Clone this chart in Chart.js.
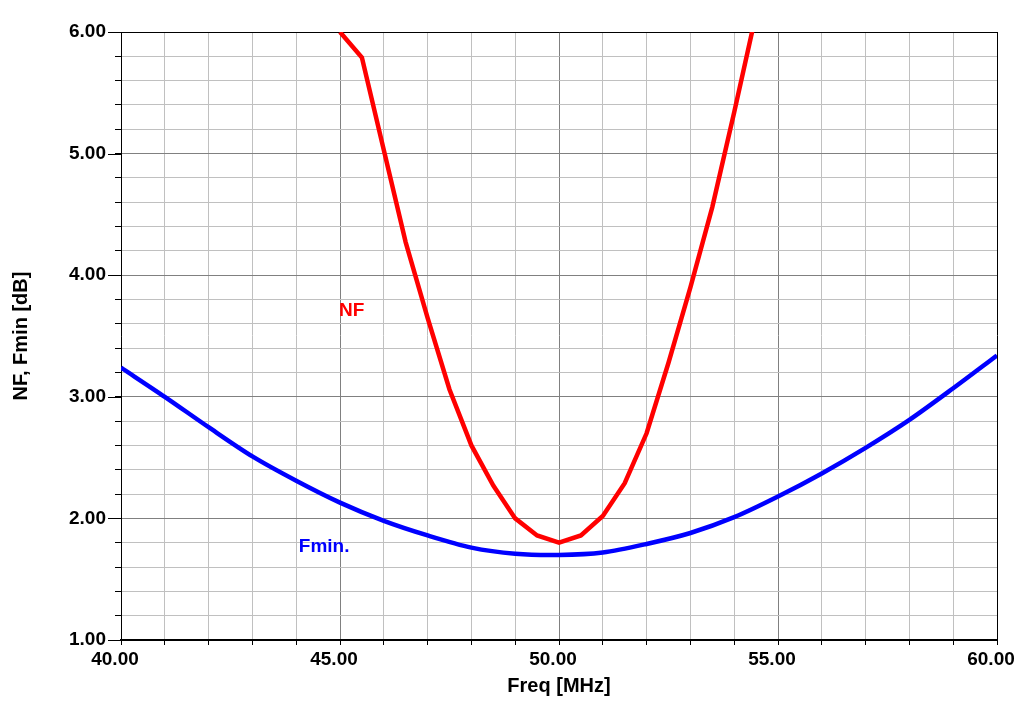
<!DOCTYPE html>
<html>
<head>
<meta charset="utf-8">
<title>NF, Fmin vs Freq</title>
<script src="https://cdn.jsdelivr.net/npm/chart.js@4.4.1/dist/chart.umd.min.js"></script>
<style>
  html, body { margin: 0; padding: 0; background: #fff; }
  #wrap { width: 1035px; height: 708px; position: relative; }
</style>
</head>
<body>
<div id="wrap"><canvas id="nfChart"></canvas></div>
<script>
// Noise figure sweep (MHz / dB)
const nfFreq = [45.0, 45.5, 46.0, 46.5, 47.0, 47.5, 48.0, 48.5, 49.0, 49.5, 50.0, 50.5, 51.0, 51.5, 52.0, 52.5, 53.0, 53.5, 54.0, 54.5];
const nfValues = [6.00, 5.79, 5.03, 4.27, 3.65, 3.06, 2.60, 2.27, 2.00, 1.86, 1.80, 1.86, 2.02, 2.29, 2.70, 3.28, 3.90, 4.56, 5.34, 6.15];

const fminFreq = [40, 41, 42, 43, 44, 45, 46, 47, 48, 49, 50, 51, 52, 53, 54, 55, 56, 57, 58, 59, 60];
const fminValues = [3.24, 3.00, 2.75, 2.51, 2.31, 2.13, 1.98, 1.86, 1.76, 1.71, 1.70, 1.72, 1.79, 1.88, 2.01, 2.18, 2.37, 2.58, 2.81, 3.07, 3.34];

const xLabeledTicks = [40, 45, 50, 55, 60];
const yLabeledTicks = [1, 2, 3, 4, 5, 6];

const seriesNames = ["NF", "Fmin."];

const FONT = "'Liberation Sans', Arial, sans-serif";
const GRID_MAJOR = "#808080";
const GRID_MINOR = "#c0c0c0";

const toPoints = (xs, ys) => xs.map((x, i) => ({ x, y: ys[i] }));
const isOn = (list, v) => list.some((t) => Math.abs(t - v) < 1e-6);

// curve names placed in the plot at data coordinates
const curveLabels = [
  { text: seriesNames[0], color: "#ff0000", x: 44.98, y: 3.71 },
  { text: seriesNames[1], color: "#0000ff", x: 44.06, y: 1.77 },
];

const curveLabelPlugin = {
  id: "curveLabels",
  afterDatasetsDraw(chart) {
    const { ctx, scales } = chart;
    ctx.save();
    ctx.font = `bold 19px ${FONT}`;
    ctx.textAlign = "left";
    ctx.textBaseline = "middle";
    for (const lab of curveLabels) {
      ctx.fillStyle = lab.color;
      ctx.fillText(lab.text, scales.x.getPixelForValue(lab.x), scales.y.getPixelForValue(lab.y));
    }
    ctx.restore();
  }
};

// longer tick marks on whole dB values
const majorTickPlugin = {
  id: "majorTicks",
  afterDraw(chart) {
    const { ctx, scales, chartArea } = chart;
    ctx.save();
    ctx.strokeStyle = "#000";
    ctx.lineWidth = 1;
    for (const v of yLabeledTicks) {
      const y = Math.round(scales.y.getPixelForValue(v)) + 0.5;
      ctx.beginPath();
      ctx.moveTo(chartArea.left - 13, y);
      ctx.lineTo(chartArea.left, y);
      ctx.stroke();
    }
    ctx.restore();
  }
};

new Chart(document.getElementById("nfChart"), {
  type: "line",
  data: {
    datasets: [
      { label: seriesNames[0], data: toPoints(nfFreq, nfValues), borderColor: "#ff0000", borderWidth: 4.5, pointRadius: 0, tension: 0, fill: false },
      { label: seriesNames[1], data: toPoints(fminFreq, fminValues), borderColor: "#0000ff", borderWidth: 4.5, pointRadius: 0, tension: 0.3, fill: false },
    ]
  },
  options: {
    responsive: true,
    maintainAspectRatio: false,
    animation: false,
    layout: { padding: { top: 32, right: 38, left: 0, bottom: 0 } },
    plugins: { legend: { display: false }, tooltip: { enabled: false } },
    scales: {
      x: {
        type: "linear", min: 40, max: 60,
        border: { color: "#000", width: 2 },
        grid: {
          color: (c) => isOn([60], c.tick.value) ? "#000" : (isOn(xLabeledTicks, c.tick.value) ? GRID_MAJOR : GRID_MINOR),
          tickColor: "#000", tickLength: 5, lineWidth: 1
        },
        ticks: {
          stepSize: 1, autoSkip: false, maxRotation: 0, padding: 3, labelOffset: -6,
          color: "#000", font: { family: FONT, size: 19, weight: "bold" },
          callback: (v) => isOn(xLabeledTicks, v) ? Number(v).toFixed(2) : ""
        },
        title: { display: true, text: "Freq [MHz]", color: "#000", font: { family: FONT, size: 20, weight: "bold" }, padding: { top: 0, bottom: 10 } },
        afterFit: (scale) => { scale.height = 68; }
      },
      y: {
        type: "linear", min: 1, max: 6,
        border: { color: "#000", width: 1 },
        grid: {
          color: (c) => isOn([6], c.tick.value) ? "#000" : (isOn(yLabeledTicks, c.tick.value) ? GRID_MAJOR : GRID_MINOR),
          tickColor: "#000", tickLength: 6, lineWidth: 1
        },
        ticks: {
          stepSize: 0.2, autoSkip: false, padding: 9,
          color: "#000", font: { family: FONT, size: 19, weight: "bold" },
          callback: (v) => isOn(yLabeledTicks, v) ? Math.round(v).toFixed(2) : ""
        },
        title: { display: true, text: "NF, Fmin [dB]", color: "#000", font: { family: FONT, size: 20, weight: "bold" }, padding: { top: 9, bottom: 0 } },
        afterFit: (scale) => { scale.width = 121; }
      }
    }
  },
  plugins: [curveLabelPlugin, majorTickPlugin]
});
</script>
</body>
</html>
